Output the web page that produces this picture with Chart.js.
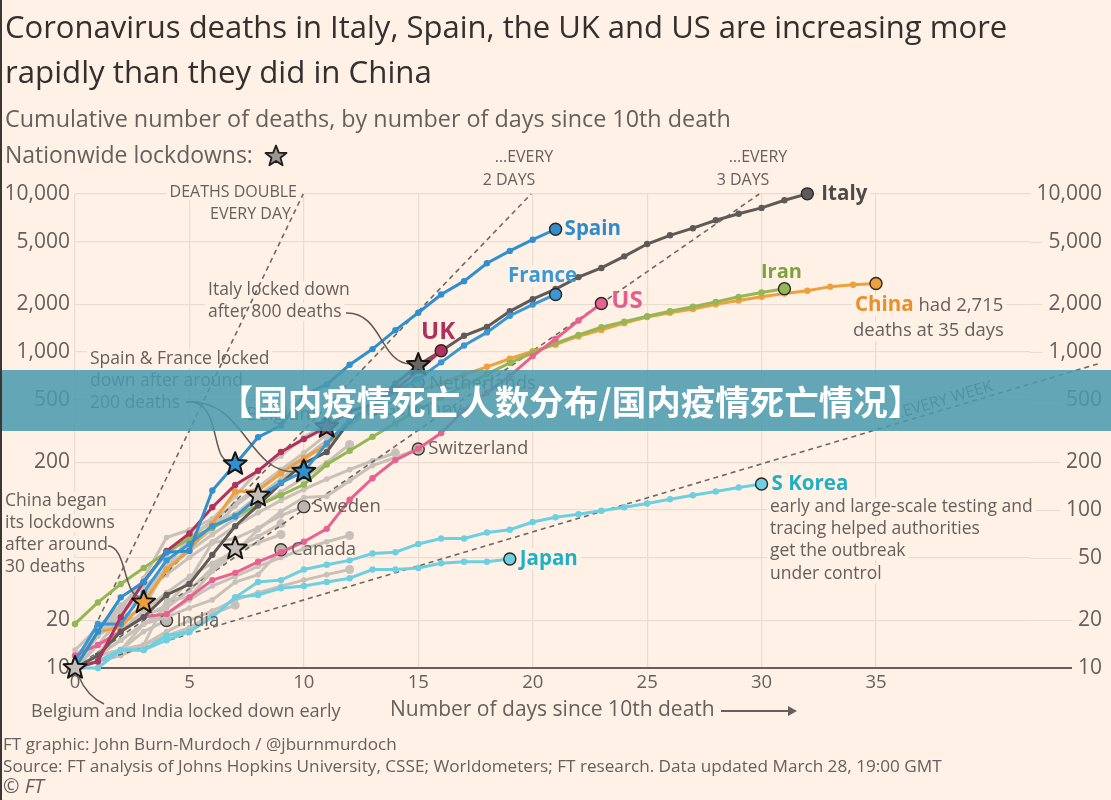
<!DOCTYPE html>
<html><head><meta charset="utf-8">
<script src="https://cdn.jsdelivr.net/npm/chart.js@4.4.0/dist/chart.umd.min.js"></script>
<style>
html,body{margin:0;padding:0;background:#FFF1E5;}
#wrap{position:relative;width:1111px;height:800px;overflow:hidden;background:#FFF1E5;font-family:'Open Sans',sans-serif;color:#66605C;}
#edge{position:absolute;left:0;top:0;width:2px;height:800px;background:#3b3734;z-index:6}
canvas{position:absolute;left:0;top:0;}
.t{position:absolute;white-space:nowrap;line-height:1;z-index:3}
#banner{position:absolute;left:0;top:370px;width:1111px;height:61px;background:rgba(73,155,175,0.86);z-index:5;
 color:#fff;font-family:'Noto Sans CJK SC',sans-serif;font-weight:700;font-size:34.5px;line-height:61px;text-align:center;box-sizing:border-box;padding-left:30px;white-space:nowrap}
</style></head>
<body><div id="wrap">
<div id="edge"></div>
<canvas id="c" width="1111" height="800"></canvas>
<div class="t" data-x="5" data-b="39" data-w="1003" data-s="27" style="color:#33302E">Coronavirus deaths in Italy, Spain, the UK and US are increasing more</div>
<div class="t" data-x="5" data-b="84" data-w="427" data-s="27" style="color:#33302E">rapidly than they did in China</div>
<div class="t" data-x="5" data-b="128" data-w="726" data-s="22">Cumulative number of deaths, by number of days since 10th death</div>
<div class="t" data-x="5" data-b="163" data-w="248" data-s="22">Nationwide lockdowns:</div>
<svg style="position:absolute;left:264px;top:144px;z-index:3" width="24" height="24" viewBox="0 0 24 24"><polygon points="12,1.5 14.8,8.6 22.5,9 16.5,13.8 18.6,21.3 12,17 5.4,21.3 7.5,13.8 1.5,9 9.2,8.6" fill="#9C9590" stroke="#1f1c1a" stroke-width="1.8" stroke-linejoin="round"/></svg>
<div class="t" data-x="390" data-b="717" data-w="325" data-s="19">Number of days since 10th death</div>
<svg style="position:absolute;left:721px;top:704px;z-index:3" width="80" height="14"><line x1="0" y1="7" x2="70" y2="7" stroke="#66605C" stroke-width="2"/><polygon points="67,2 76,7 67,12" fill="#66605C"/></svg>
<div class="t" data-x="31" data-b="717" data-w="310" data-s="18">Belgium and India locked down early</div>
<div class="t" data-x="3" data-b="750" data-w="394" data-s="16.5">FT graphic: John Burn-Murdoch / @jburnmurdoch</div>
<div class="t" data-x="3" data-b="772" data-w="940" data-s="16.5">Source: FT analysis of Johns Hopkins University, CSSE; Worldometers; FT research. Data updated March 28, 19:00 GMT</div>
<div class="t" data-x="3" data-b="794" data-w="41" data-s="16.5"><i>©</i> <i>FT</i></div>
<div id="banner">【国内疫情死亡人数分布/国内疫情死亡情况】</div>
</div>
<script>
// ---------- DATA (cumulative deaths by days since 10th death) ----------
const xTicks = [0, 5, 10, 15, 20, 25, 30, 35];
const yTicks = [10, 20, 50, 100, 200, 500, 1000, 2000, 5000, 10000];
const yTicksHiddenLeft = [50, 100];

const italy = [10,12,17,21,29,34,52,79,107,148,197,233,366,463,631,827,1016,1266,1441,1809,2158,2503,2978,3405,4032,4825,5476,6077,6820,7503,8165,9134,10023];
const spain = [10,17,28,35,54,55,133,195,289,342,533,623,830,1043,1375,1772,2311,2808,3647,4365,5138,5982];
const france = [11,19,19,30,48,61,79,91,120,149,175,264,372,450,562,674,860,1100,1331,1696,1995,2314];
const uk = [10,11,21,35,55,71,104,144,177,233,281,335,422,465,578,759,1019];
const us = [12,14,17,21,22,28,36,40,47,54,63,76,116,159,207,244,307,427,552,706,942,1209,1581,2026];
const iran = [19,26,34,43,54,66,77,92,107,124,145,194,237,291,354,429,514,611,724,853,988,1135,1284,1433,1556,1685,1812,1934,2077,2234,2378,2517];
const china = [10,17,18,26,42,56,82,131,133,171,213,259,362,426,492,564,634,719,806,906,1013,1113,1259,1380,1523,1666,1770,1868,2004,2118,2236,2345,2442,2592,2663,2715];
const sKorea = [10,11,13,13,16,17,21,28,35,36,42,45,48,53,54,61,66,66,72,75,84,90,94,99,104,110,117,124,131,139,146];
const japan = [10,10,13,13,15,17,21,28,29,32,33,35,37,42,42,43,46,47,47,49];
const netherlands = [10,12,20,24,43,58,76,106,136,179,213,276,356,434,546,639];
const germany = [11,17,24,28,44,67,84,94,123,157,206,267,342,433];
const belgium = [10,14,21,37,67,75,88,122,178,220,289,353];
const switzerland = [10,11,13,14,27,28,41,54,75,98,120,122,153,191,215,243];
const sweden = [10,16,20,21,25,36,62,66,77,92,105];
const canada = [10,12,13,19,21,24,27,35,39,56];
const india = [10,12,13,17,20];
const otherA = [10,12,15,19,24,31,43,57,68,82];
const otherB = [10,12,15,19,22,27,33,38,44,50,57,63,69];
const otherC = [10,11,12,14,17,20,23,27,30,33,36,39,42];
const otherD = [12,16,22,30,39,50,63,79,96,115,135,157,180,205,230];
const otherE = [11,16,24,36,52,68,85,110,140,180,230,300];
const otherF = [13,18,25,33,42,55,70,88,105,130,160,200,260];
const otherG = [10,11,13,14,16,18,22,25];
const otherH = [10,14,17,23,30,38,46,55,62,70];

// doubling guide lines: start and end points (day, deaths)
const guideStartDay = [0, 0, 0, 0];
const guideStartDeaths = [10, 10, 10, 10];
const guideEndDay = [9.97, 19.93, 29.9, 44.8];
const guideEndDeaths = [10000, 10000, 10000, 850];

// nationwide lockdowns: day index on each series
const lockdownSeries = [italy, spain, france, uk, china, germany, otherA, belgium];
const lockdownDay = [15, 7, 10, 11, 3, 8, 7, 0];

// ---------- STYLE ----------
const TXT = '#66605C', DARK = '#33302E', GRID = '#E9DDD2', BG = '#FFF1E5';
const GREY = '#C8C1BA';
const lockdownFill = ['#6A6663', '#2F8FCF', '#2F8FCF', '#A8365E', '#EE9F3A', '#C4BEB8', '#C4BEB8', '#C4BEB8'];
const FONT = "'Open Sans', sans-serif";
Chart.defaults.font.family = FONT;

function ser(label, values, color, o = {}) {
  const last = values.length - 1;
  return {
    label, data: values.map((v, i) => ({x: i, y: v})),
    borderColor: color, backgroundColor: color,
    borderWidth: o.bw || 3, tension: 0, clip: false,
    pointRadius: c => c.dataIndex === last ? (o.endR ?? 6) : (o.pr ?? 3.2),
    pointHoverRadius: c => c.dataIndex === last ? (o.endR ?? 6) : (o.pr ?? 3.2),
    pointBackgroundColor: c => (c.dataIndex === last && o.endFill) ? o.endFill : color,
    pointBorderColor: c => (c.dataIndex === last && o.endStroke) ? o.endStroke : color,
    pointBorderWidth: c => (c.dataIndex === last && o.endStroke) ? 1.4 : 0
  };
}
const lab = {endStroke: '#2b2725'};
const labGrey = {endStroke: '#3f3a37', endFill: '#BDB6B0', pr: 2.8};
const unl = {endR: 4.5, pr: 2.8};

const datasets = [
  ser('Spain', spain, '#2F8FCF', lab),
  ser('UK', uk, '#B2325E', lab),
  ser('France', france, '#3A97D4', lab),
  ser('Italy', italy, '#5E5A57', lab),
  ser('US', us, '#E8628F', lab),
  ser('Iran', iran, '#93B755', lab),
  ser('China', china, '#EEA03C', lab),
  ser('S Korea', sKorea, '#6DD0E0', lab),
  ser('Japan', japan, '#6DD0E0', lab),
  ser('Netherlands', netherlands, GREY, labGrey),
  ser('Germany', germany, GREY, labGrey),
  ser('Belgium', belgium, GREY, labGrey),
  ser('Switzerland', switzerland, GREY, labGrey),
  ser('Sweden', sweden, GREY, labGrey),
  ser('Canada', canada, GREY, labGrey),
  ser('India', india, GREY, labGrey)
];
guideEndDay.forEach((d, i) => datasets.push({
  label: 'guide' + i,
  data: [{x: guideStartDay[i], y: guideStartDeaths[i]}, {x: d, y: guideEndDeaths[i]}],
  borderColor: '#6E6863', borderWidth: 1.6, borderDash: [5, 4], pointRadius: 0, clip: false, tension: 0
}));
[otherA, otherB, otherC, otherD, otherE, otherF, otherG, otherH].forEach((a, i) => datasets.push(ser('other' + i, a, GREY, unl)));

const fmt = v => v.toLocaleString('en-US');

// ---------- annotations ----------
const seriesLabels = [
  {arr: italy, t: 'Italy', dx: 14, dy: 0, align: 'left', color: '#4F4A47', size: 20.5, w: 700, bg: true},
  {arr: spain, t: 'Spain', dx: 9, dy: 0, align: 'left', color: '#2D8BCB', size: 20.5, w: 700, bg: true},
  {arr: france, t: 'France', dx: -13, dy: -18, align: 'center', color: '#3A98D5', size: 20.5, w: 700, bg: true},
  {arr: uk, t: 'UK', dx: -3, dy: -19, align: 'center', color: '#B02F5B', size: 24, w: 700},
  {arr: us, t: 'US', dx: 10, dy: -2, align: 'left', color: '#E65E8E', size: 24, w: 700},
  {arr: iran, t: 'Iran', dx: -3, dy: -16, align: 'center', color: '#7EA23A', size: 20, w: 700},
  {arr: china, t: 'China', dx: -21, dy: 22, align: 'left', color: '#E8902B', size: 20.5, w: 700, bg: true},
  {arr: sKorea, t: 'S Korea', dx: 10, dy: 0, align: 'left', color: '#1FB1C3', size: 20.5, w: 700, bg: true},
  {arr: japan, t: 'Japan', dx: 10, dy: 0, align: 'left', color: '#1FB1C3', size: 20.5, w: 700, bg: true},
  {arr: netherlands, t: 'Netherlands', dx: 11, dy: 1, align: 'left', color: TXT, size: 18.5, w: 400},
  {arr: germany, t: 'Germany', dx: 10, dy: 0, align: 'left', color: TXT, size: 18.5, w: 400},
  {arr: belgium, t: 'Belgium', dx: -10, dy: -9, align: 'right', color: TXT, size: 18.5, w: 400},
  {arr: switzerland, t: 'Switzerland', dx: 10, dy: 0, align: 'left', color: TXT, size: 18.5, w: 400, bg: true},
  {arr: sweden, t: 'Sweden', dx: 9, dy: 0, align: 'left', color: TXT, size: 18.5, w: 400, bg: true},
  {arr: canada, t: 'Canada', dx: 10, dy: 0, align: 'left', color: TXT, size: 18.5, w: 400, bg: true},
  {arr: india, t: 'India', dx: 10, dy: 0, align: 'left', color: TXT, size: 18.5, w: 400, bg: true}
];
const notes = [
  {t: 'DEATHS DOUBLE', x: 297, y: 192, align: 'right', size: 16, bg: true},
  {t: 'EVERY DAY', x: 291, y: 214, align: 'right', size: 16, bg: true},
  {t: '…EVERY', x: 524, y: 157, align: 'center', size: 16},
  {t: '2 DAYS', x: 509, y: 180, align: 'center', size: 16},
  {t: '…EVERY', x: 758, y: 157, align: 'center', size: 16},
  {t: '3 DAYS', x: 743, y: 180, align: 'center', size: 16},
  {t: 'Italy locked down', x: 208, y: 290, size: 17.5, bg: true},
  {t: 'after 800 deaths', x: 208, y: 312, size: 17.5, bg: true},
  {t: 'Spain & France locked', x: 90, y: 359, size: 17.5, bg: true},
  {t: 'down after around', x: 90, y: 381, size: 17.5, bg: true},
  {t: '200 deaths', x: 90, y: 403, size: 17.5, bg: true},
  {t: 'China began', x: 5, y: 501, size: 17.5, bg: true},
  {t: 'its lockdowns', x: 5, y: 523, size: 17.5, bg: true},
  {t: 'after around', x: 5, y: 545, size: 17.5, bg: true},
  {t: '30 deaths', x: 5, y: 567, size: 17.5, bg: true},
  {t: 'early and large-scale testing and', x: 770, y: 507, size: 17.5, bg: true},
  {t: 'tracing helped authorities', x: 770, y: 529, size: 17.5, bg: true},
  {t: 'get the outbreak', x: 770, y: 551, size: 17.5, bg: true},
  {t: 'under control', x: 770, y: 574, size: 17.5, bg: true},
  {t: 'deaths at 35 days', x: 853, y: 331, size: 18.5, bg: true}
];

function setFont(ctx, size, w) { ctx.font = `${w || 400} ${size}px ${FONT}`; }
function boxFor(ctx, t, x, y, size, w, align) {
  setFont(ctx, size, w);
  const tw = ctx.measureText(t).width;
  const left = align === 'right' ? x - tw : align === 'center' ? x - tw / 2 : x;
  ctx.fillStyle = BG;
  ctx.fillRect(left - 3, y - size * 0.52, tw + 6, size * 1.04);
}
function drawT(ctx, t, x, y, size, w, align, color) {
  setFont(ctx, size, w);
  ctx.fillStyle = color || TXT; ctx.textAlign = align || 'left'; ctx.textBaseline = 'middle';
  ctx.fillText(t, x, y);
}
function starPath(ctx, cx, cy, R, r) {
  ctx.beginPath();
  for (let i = 0; i < 10; i++) {
    const a = -Math.PI / 2 + i * Math.PI / 5, rad = i % 2 ? r : R;
    ctx.lineTo(cx + rad * Math.cos(a), cy + rad * Math.sin(a));
  }
  ctx.closePath();
}
function labelPos(chart, L) {
  const {x, y} = chart.scales; const i = L.arr.length - 1;
  return [x.getPixelForValue(i) + L.dx, y.getPixelForValue(L.arr[i]) + L.dy];
}

const annot = {
  id: 'annot',
  beforeDatasetsDraw(chart) {
    const {ctx, chartArea: a, scales: {y, y2}} = chart;
    ctx.save();
    // extend horizontal grid lines to the right-hand labels
    setFont(ctx, 21, 400);
    ctx.strokeStyle = GRID; ctx.lineWidth = 1.2;
    yTicks.forEach(v => {
      const py = Math.round(y.getPixelForValue(v)) + 0.5;
      const end = y2.right - ctx.measureText(fmt(v)).width - 6;
      ctx.beginPath(); ctx.moveTo(a.right, py); ctx.lineTo(end, py); ctx.stroke();
    });
    // extend the baseline
    ctx.strokeStyle = TXT; ctx.lineWidth = 2;
    ctx.beginPath(); ctx.moveTo(a.right, a.bottom); ctx.lineTo(1072, a.bottom); ctx.stroke();
    // text backgrounds
    notes.filter(n => n.bg).forEach(n => boxFor(ctx, n.t, n.x, n.y, n.size, 400, n.align || 'left'));
    seriesLabels.filter(L => L.bg).forEach(L => { const [px, py] = labelPos(chart, L); boxFor(ctx, L.t, px, py, L.size, L.w, L.align); });
    const [cx, cy] = labelPos(chart, seriesLabels[6]);
    setFont(ctx, 20.5, 700); const cw = ctx.measureText('China').width;
    boxFor(ctx, ' had 2,715', cx + cw, cy, 18.5, 400, 'left');
    ctx.restore();
  },
  afterDatasetsDraw(chart) {
    const {ctx, scales: {x, y}} = chart;
    ctx.save();
    // guide-line label along the weekly line
    const x1 = x.getPixelForValue(guideStartDay[3]), y1 = y.getPixelForValue(guideStartDeaths[3]);
    const x2 = x.getPixelForValue(guideEndDay[3]), y2p = y.getPixelForValue(guideEndDeaths[3]);
    const ang = Math.atan2(y2p - y1, x2 - x1);
    ctx.save(); ctx.translate(942, 401); ctx.rotate(ang);
    drawT(ctx, '…EVERY WEEK', 0, 0, 16, 400, 'center', TXT); ctx.restore();
    // notes
    notes.forEach(n => drawT(ctx, n.t, n.x, n.y, n.size, 400, n.align || 'left', TXT));
    // series labels
    seriesLabels.forEach(L => { const [px, py] = labelPos(chart, L); drawT(ctx, L.t, px, py, L.size, L.w, L.align, L.color); });
    const [cx, cy] = labelPos(chart, seriesLabels[6]);
    setFont(ctx, 20.5, 700); const cw = ctx.measureText('China').width;
    drawT(ctx, ' had 2,715', cx + cw, cy, 18.5, 400, 'left', TXT);
    // connectors
    const sp = i => [x.getPixelForValue(lockdownDay[i]), y.getPixelForValue(lockdownSeries[i][lockdownDay[i]])];
    ctx.strokeStyle = '#5E5955'; ctx.lineWidth = 1.5;
    const [ix, iy] = sp(0), [sx, sy] = sp(1), [fx, fy] = sp(2), [chx, chy] = sp(4), [bx, by] = sp(7);
    ctx.beginPath(); ctx.moveTo(346, 313); ctx.bezierCurveTo(382, 312, 380, iy - 2, ix - 8, iy - 1); ctx.stroke();
    ctx.beginPath(); ctx.moveTo(186, 402); ctx.bezierCurveTo(222, 398, 210, sy - 4, sx - 6, sy - 3); ctx.stroke();
    ctx.beginPath(); ctx.moveTo(186, 402); ctx.bezierCurveTo(245, 398, 248, fy + 2, fx - 9, fy); ctx.stroke();
    ctx.beginPath(); ctx.moveTo(108, 546); ctx.bezierCurveTo(126, 546, 124, chy - 8, chx - 5, chy - 6); ctx.stroke();
    ctx.beginPath(); ctx.moveTo(bx + 4, by + 9); ctx.quadraticCurveTo(bx + 12, by + 28, bx + 29, by + 36); ctx.stroke();
    // lockdown stars
    lockdownSeries.forEach((arr, i) => {
      const [px, py] = sp(i);
      starPath(ctx, px, py, 12, 5.2);
      ctx.fillStyle = lockdownFill[i]; ctx.fill();
      ctx.lineWidth = 2; ctx.lineJoin = 'round'; ctx.strokeStyle = '#161412'; ctx.stroke();
    });
    ctx.restore();
  }
};

const yAxis = (pos) => ({
  type: 'logarithmic', position: pos, min: 10, max: 10000,
  afterBuildTicks: s => { s.ticks = yTicks.map(v => ({value: v})); },
  afterFit: s => { s.width = pos === 'left' ? 75 : 72; },
  grid: {display: pos === 'left', color: GRID, lineWidth: 1.2, drawTicks: false},
  border: {display: false},
  ticks: {color: TXT, font: {size: 21}, padding: 5, crossAlign: pos === 'left' ? 'near' : 'far',
    callback: v => (pos === 'left' && yTicksHiddenLeft.includes(v)) ? '' : fmt(v)}
});

new Chart(document.getElementById('c'), {
  type: 'line',
  data: {datasets},
  options: {
    responsive: false, animation: false, events: [],
    layout: {padding: {left: 0, right: 9, top: 194, bottom: 92}},
    plugins: {legend: {display: false}, tooltip: {enabled: false}},
    scales: {
      x: {
        type: 'linear', min: 0, max: 41.73,
        afterBuildTicks: s => { s.ticks = xTicks.map(v => ({value: v})); },
        afterFit: s => { s.height = 40; },
        grid: {color: GRID, lineWidth: 1.2, drawTicks: false},
        border: {display: true, color: TXT, width: 2},
        ticks: {color: TXT, font: {size: 18.5}, padding: 4, maxRotation: 0}
      },
      y: yAxis('left'),
      y2: yAxis('right')
    }
  },
  plugins: [annot]
});

// ---------- HTML text placement ----------
function placeAll() {
  document.querySelectorAll('.t').forEach(el => {
    const s0 = +el.dataset.s, w = +el.dataset.w, b = +el.dataset.b;
    el.style.left = el.dataset.x + 'px';
    el.style.fontSize = s0 + 'px';
    const cw = el.getBoundingClientRect().width;
    const s = w ? s0 * w / cw : s0;
    el.style.fontSize = s + 'px';
    el.style.top = (b - 0.888 * s) + 'px';
  });
}
placeAll();
if (document.fonts && document.fonts.ready) document.fonts.ready.then(placeAll);
</script>
</body></html>
